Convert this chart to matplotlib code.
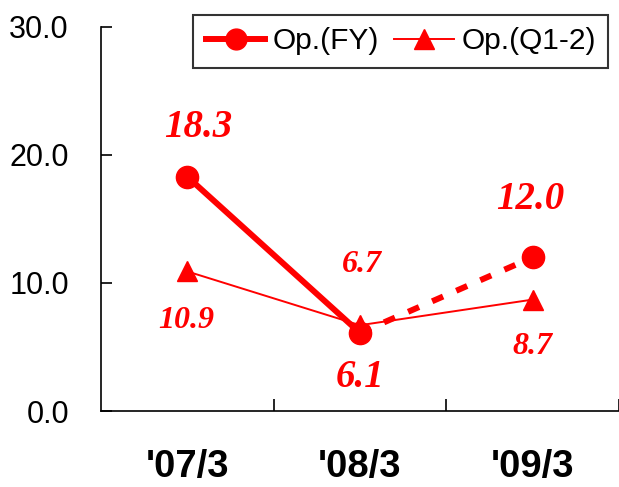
import matplotlib
matplotlib.use("Agg")
import matplotlib.pyplot as plt
from matplotlib.lines import Line2D

# operating income by fiscal year
years = ["'07/3", "'08/3", "'09/3"]
op_fy = [18.3, 6.1, 12.0]
op_q12 = [10.9, 6.7, 8.7]

# label offsets in pixels (dx, dy) for each point
fy_offsets = [(11, 49), (0, -45), (-2, 58)]
q12_offsets = [(-1, -49), (2, 61), (0, -47)]

red = "#FF0000"
plt.rcParams["font.family"] = ["Liberation Sans", "DejaVu Sans"]

fig = plt.figure(figsize=(6.19, 4.87), dpi=100)
ax = fig.add_axes([0.163, 0.156, 0.837, 0.789])

x = list(range(len(years)))

# Q1-2 thin line with triangles
ax.plot(x, op_q12, color=red, lw=1.4, marker="^", ms=15, zorder=3)
# FY thick line, solid for actuals, dashed for forecast
ax.plot(x[:2], op_fy[:2], color=red, lw=4.3, marker="o", ms=16, zorder=4)
ax.plot(x[1:], op_fy[1:], color=red, lw=4.3, ls=(0, (2, 2.4)), zorder=4)
ax.plot(x[2:], op_fy[2:], color=red, lw=0, marker="o", ms=16, zorder=4)

big = dict(family="Liberation Serif", style="italic", weight="bold", color=red)
for i, v in enumerate(op_fy):
    ax.annotate(f"{v:.1f}", (i, v), xytext=fy_offsets[i], textcoords="offset pixels",
                ha="center", va="center", fontsize=28, **big)
for i, v in enumerate(op_q12):
    ax.annotate(f"{v:.1f}", (i, v), xytext=q12_offsets[i], textcoords="offset pixels",
                ha="center", va="center", fontsize=23, **big)

ax.set_xlim(-0.5, 2.5)
ax.set_ylim(0, 30)
ax.set_yticks([0, 10, 20, 30])
ax.set_yticklabels([f"{t:.1f}" for t in [0, 10, 20, 30]], fontsize=22)
ax.set_xticks(x)
ax.set_xticklabels(years, fontsize=27.5, fontweight="bold")
ax.set_xticks([0.5, 1.5, 2.5], minor=True)
ax.tick_params(axis="x", which="major", length=0, pad=27)
ax.tick_params(axis="x", which="minor", direction="in", length=9, width=1.2)
ax.tick_params(axis="y", direction="in", length=8, width=1.2, pad=23)
for s in ["top", "right"]:
    ax.spines[s].set_visible(False)
for s in ["left", "bottom"]:
    ax.spines[s].set_linewidth(1.2)

handles = [
    Line2D([], [], color=red, lw=4.3, marker="o", ms=15),
    Line2D([], [], color=red, lw=1.4, marker="^", ms=15),
]
leg = fig.legend(handles, ["Op.(FY)", "Op.(Q1-2)"], loc="upper right",
                 bbox_to_anchor=(0.983, 0.97), ncol=2, fontsize=21.5,
                 frameon=True, fancybox=False, handlelength=2.0,
                 columnspacing=0.5, handletextpad=0.25, borderpad=0.42,
                 borderaxespad=0)
leg.get_frame().set_edgecolor("black")
leg.get_frame().set_linewidth(1.5)

fig.savefig("out.png", dpi=100)
